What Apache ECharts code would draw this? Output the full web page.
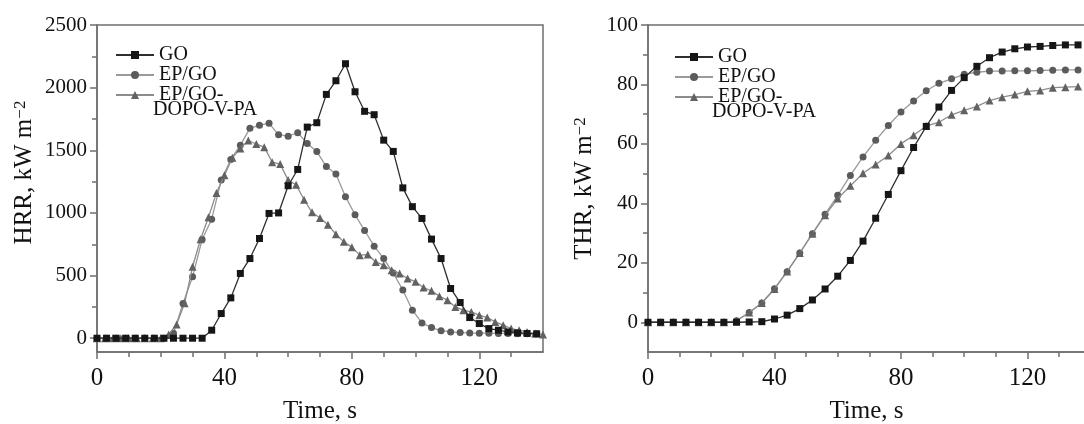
<!DOCTYPE html>
<html>
<head>
<meta charset="utf-8">
<title>HRR / THR</title>
<script src="https://cdn.jsdelivr.net/npm/echarts@6.0.0/dist/echarts.min.js"></script>
<style>
  html, body { margin: 0; padding: 0; background: #fff; }
  #chart { width: 1084px; height: 424px; }
</style>
</head>
<body>
<div id="chart"></div>
<script>
// ---- data ----
// HRR, sampled every 3 s (GO, EP/GO) and every 2.5 s (EP/GO-DOPO-V-PA)
const hrrTimeGO = [0, 3, 6, 9, 12, 15, 18, 21, 24, 27, 30, 33, 36, 39, 42, 45, 48, 51, 54, 57, 60, 63, 66, 69, 72, 75, 78, 81, 84, 87, 90, 93, 96, 99, 102, 105, 108, 111, 114, 117, 120, 123, 126, 129, 132, 135, 138]
const hrrGO = [0, 0, 0, 0, 0, 0, 0, 0, 0, 0, 0, 0, 64, 197, 322, 517, 636, 796, 996, 1000, 1217, 1347, 1685, 1720, 1946, 2055, 2191, 1967, 1811, 1784, 1581, 1491, 1200, 1050, 956, 791, 636, 397, 285, 165, 117, 77, 64, 50, 42, 38, 35]
const hrrEPGO = [0, 0, 0, 0, 0, 0, 0, 0, 40, 277, 490, 788, 950, 1262, 1427, 1541, 1675, 1700, 1715, 1625, 1613, 1640, 1555, 1490, 1370, 1310, 1130, 985, 860, 735, 636, 520, 385, 224, 122, 85, 60, 50, 45, 42, 40, 40, 38, 38, 36, 35, 35]
const hrrTimeDOPO = [0, 2.5, 5, 7.5, 10, 12.5, 15, 17.5, 20, 22.5, 25, 27.5, 30, 32.5, 35, 37.5, 40, 42.5, 45, 47.5, 50, 52.5, 55, 57.5, 60, 62.5, 65, 67.5, 70, 72.5, 75, 77.5, 80, 82.5, 85, 87.5, 90, 92.5, 95, 97.5, 100, 102.5, 105, 107.5, 110, 112.5, 115, 117.5, 120, 122.5, 125, 127.5, 130, 132.5, 135, 137.5, 140]
const hrrDOPO = [0, 0, 0, 0, 0, 0, 0, 0, 0, 30, 110, 280, 570, 790, 965, 1160, 1300, 1440, 1515, 1578, 1550, 1525, 1405, 1390, 1262, 1225, 1105, 1005, 960, 905, 830, 769, 727, 663, 668, 609, 583, 543, 517, 477, 450, 405, 378, 335, 304, 250, 224, 210, 184, 165, 130, 104, 77, 64, 50, 37, 30]

// THR, sampled every 4 s
const thrTime = [0, 4, 8, 12, 16, 20, 24, 28, 32, 36, 40, 44, 48, 52, 56, 60, 64, 68, 72, 76, 80, 84, 88, 92, 96, 100, 104, 108, 112, 116, 120, 124, 128, 132, 136]
const thrGO = [0, 0, 0, 0, 0, 0, 0, 0, 0.1, 0.2, 1.1, 2.4, 4.6, 7.5, 11.2, 15.5, 20.8, 27.3, 35.0, 43.0, 51.0, 58.8, 65.9, 72.4, 78.0, 82.3, 86.1, 89.0, 90.9, 92.0, 92.6, 92.8, 93.1, 93.3, 93.3]
const thrEPGO = [0, 0, 0, 0, 0, 0, 0, 0.5, 3.3, 6.5, 11.3, 17.0, 23.3, 29.8, 36.3, 42.7, 49.4, 55.6, 61.2, 66.2, 70.7, 74.4, 77.9, 80.4, 81.9, 83.4, 84.1, 84.5, 84.5, 84.6, 84.6, 84.7, 84.8, 84.9, 84.9]
const thrDOPO = [0, 0, 0, 0, 0, 0, 0, 0.5, 3.3, 6.5, 11.2, 17.1, 23.3, 29.8, 36.0, 41.6, 45.9, 50.1, 53.1, 56.1, 60.0, 62.9, 66.0, 67.3, 69.8, 71.3, 72.6, 74.6, 75.7, 76.6, 77.7, 78.0, 78.9, 79.1, 79.3]

// tick labels
const timeTicks = [0, 40, 80, 120]
const timeMinor = [10, 20, 30, 50, 60, 70, 90, 100, 110, 130]
const hrrTicks = [0, 500, 1000, 1500, 2000, 2500]
const hrrMinor = [250, 750, 1250, 1750, 2250]
const thrTicks = [0, 20, 40, 60, 80, 100]
const thrMinor = [10, 30, 50, 70, 90]

const seriesNames = ['GO', 'EP/GO', 'EP/GO-DOPO-V-PA']

// ---- helpers ----
const FONT = 'Liberation Serif'
const AXIS_COLOR = '#6f6f6f'

function pairs(xs, ys) {
  return xs.map((t, i) => [t, ys[i]])
}

// main axis (line, major ticks, labels) + a bare axis carrying the short minor ticks
function xAxes(gridIndex, max, name) {
  const base = {
    type: 'value',
    gridIndex,
    position: 'bottom',
    min: 0,
    max,
    splitLine: { show: false }
  }
  return [
    {
      ...base,
      name,
      nameLocation: 'middle',
      nameGap: 47,
      nameTextStyle: { fontFamily: FONT, fontSize: 25, color: '#111' },
      axisLine: { onZero: false, lineStyle: { color: AXIS_COLOR, width: 1.5 } },
      axisTick: { customValues: timeTicks, length: 7, lineStyle: { color: AXIS_COLOR, width: 1.5 } },
      axisLabel: { customValues: timeTicks, margin: 14, fontFamily: FONT, fontSize: 25, color: '#111', formatter: (v) => String(v) }
    },
    {
      ...base,
      axisLine: { show: false, onZero: false },
      axisTick: { customValues: timeMinor, length: 5, lineStyle: { color: AXIS_COLOR, width: 1.5 } },
      axisLabel: { show: false }
    }
  ]
}

function yAxes(gridIndex, min, max, ticks, minor, name, gap, pad) {
  const base = {
    type: 'value',
    gridIndex,
    position: 'left',
    min,
    max,
    splitLine: { show: false }
  }
  return [
    {
      ...base,
      name,
      nameLocation: 'middle',
      nameGap: gap,
      nameTextStyle: {
        fontFamily: FONT,
        fontSize: 25,
        color: '#111',
        padding: pad,
        rich: {
          a: { fontFamily: FONT, fontSize: 25, color: '#111' },
          b: { fontFamily: FONT, fontSize: 17, color: '#111', verticalAlign: 'top' }
        }
      },
      axisLine: { onZero: false, lineStyle: { color: AXIS_COLOR, width: 1.5 } },
      axisTick: { customValues: ticks, length: 7, lineStyle: { color: AXIS_COLOR, width: 1.5 } },
      axisLabel: { customValues: ticks, margin: 10, fontFamily: FONT, fontSize: 21, color: '#111', formatter: (v) => String(v) }
    },
    {
      ...base,
      axisLine: { show: false, onZero: false },
      axisTick: { customValues: minor, length: 5, lineStyle: { color: AXIS_COLOR, width: 1.5 } },
      axisLabel: { show: false }
    }
  ]
}

const styles = {
  'GO': { symbol: 'rect', size: 7, marker: '#161616', line: '#2e2e2e', z: 5 },
  'EP/GO': { symbol: 'circle', size: 7, marker: '#5b5b5b', line: '#9a9a9a', z: 3 },
  'EP/GO-DOPO-V-PA': { symbol: 'triangle', size: 8, marker: '#626262', line: '#8c8c8c', z: 4 }
}

function lineSeries(name, xs, ys, axisIndex) {
  const s = styles[name]
  return {
    name,
    type: 'line',
    xAxisIndex: axisIndex,
    yAxisIndex: axisIndex,
    data: pairs(xs, ys),
    symbol: s.symbol,
    symbolSize: s.size,
    showAllSymbol: true,
    itemStyle: { color: s.marker },
    lineStyle: { color: s.line, width: 1.3 },
    z: s.z,
    animation: false
  }
}

function legend(left, top) {
  return {
    left,
    top,
    orient: 'vertical',
    data: seriesNames,
    selectedMode: false,
    itemWidth: 38,
    itemHeight: 10,
    itemGap: 0,
    formatter: (name) => (name === 'EP/GO-DOPO-V-PA' ? 'EP/GO-' : name),
    textStyle: { fontFamily: FONT, fontSize: 20, lineHeight: 20, color: '#111' }
  }
}

const option = {
  backgroundColor: '#fff',
  animation: false,
  grid: [
    { left: 97, right: 541, top: 25, bottom: 72, show: true, borderColor: AXIS_COLOR, borderWidth: 1.5, outerBoundsMode: 'none' },
    { left: 648, right: -1, top: 25, bottom: 72, show: true, borderColor: AXIS_COLOR, borderWidth: 1.5, outerBoundsMode: 'none' }
  ],
  xAxis: [
    ...xAxes(0, 140, 'Time, s'),
    ...xAxes(1, 138.2, 'Time, s')
  ],
  yAxis: [
    ...yAxes(0, -110, 2500, hrrTicks, hrrMinor, '{a|HRR, kW m}{b|−2}', 60, [0, 0, 0, 32]),
    ...yAxes(1, -10, 100, thrTicks, thrMinor, '{a|THR, kW m}{b|−2}', 51, 0)
  ],
  legend: [legend(110, 40), legend(669, 42)],
  graphic: [
    { type: 'text', left: 153, top: 100, style: { text: 'DOPO-V-PA', font: '20px "Liberation Serif"', fill: '#111' } },
    { type: 'text', left: 712, top: 102, style: { text: 'DOPO-V-PA', font: '20px "Liberation Serif"', fill: '#111' } }
  ],
  series: [
    lineSeries('GO', hrrTimeGO, hrrGO, 0),
    lineSeries('EP/GO', hrrTimeGO, hrrEPGO, 0),
    lineSeries('EP/GO-DOPO-V-PA', hrrTimeDOPO, hrrDOPO, 0),
    lineSeries('GO', thrTime, thrGO, 2),
    lineSeries('EP/GO', thrTime, thrEPGO, 2),
    lineSeries('EP/GO-DOPO-V-PA', thrTime, thrDOPO, 2)
  ]
}

const myChart = echarts.init(document.getElementById('chart'))
myChart.setOption(option)
</script>
</body>
</html>
